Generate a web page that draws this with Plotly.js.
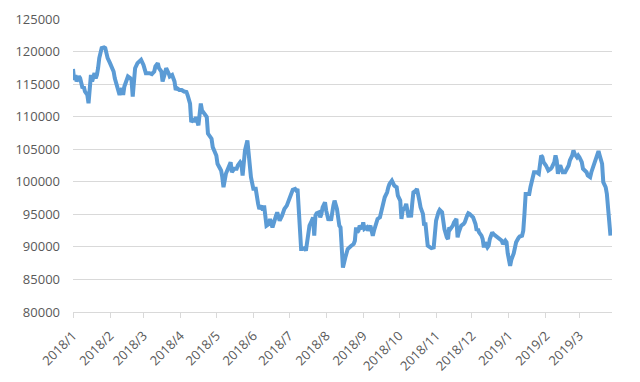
<!DOCTYPE html>
<html>
<head>
<meta charset="utf-8">
<script src="https://cdn.plot.ly/plotly-3.0.1.min.js"></script>
<style>html,body{margin:0;padding:0;background:#fff;}#chart{width:640px;height:382px;}</style>
</head>
<body>
<div id="chart"></div>
<script>
const dates = [
"2018-01-01","2018-01-02","2018-01-03","2018-01-04","2018-01-06","2018-01-07","2018-01-09","2018-01-10","2018-01-11","2018-01-13",
"2018-01-14","2018-01-15","2018-01-16","2018-01-17","2018-01-19","2018-01-20","2018-01-21","2018-01-22","2018-01-23","2018-01-25",
"2018-01-27","2018-01-28","2018-01-29","2018-01-30","2018-02-01","2018-02-02","2018-02-04","2018-02-05","2018-02-06","2018-02-08",
"2018-02-09","2018-02-11","2018-02-12","2018-02-13","2018-02-15","2018-02-16","2018-02-18","2018-02-19","2018-02-20","2018-02-21",
"2018-02-22","2018-02-24","2018-02-26","2018-02-27","2018-03-01","2018-03-02","2018-03-03","2018-03-06","2018-03-08","2018-03-10",
"2018-03-11","2018-03-13","2018-03-14","2018-03-16","2018-03-17","2018-03-19","2018-03-20","2018-03-22","2018-03-23","2018-03-25",
"2018-03-27","2018-03-28","2018-03-29","2018-03-31","2018-04-02","2018-04-04","2018-04-06","2018-04-07","2018-04-09","2018-04-10",
"2018-04-12","2018-04-13","2018-04-14","2018-04-16","2018-04-17","2018-04-18","2018-04-19","2018-04-21","2018-04-23","2018-04-24",
"2018-04-26","2018-04-27","2018-04-28","2018-04-30","2018-05-01","2018-05-02","2018-05-05","2018-05-06","2018-05-07","2018-05-09",
"2018-05-11","2018-05-13","2018-05-14","2018-05-16","2018-05-18","2018-05-19","2018-05-21","2018-05-22","2018-05-23","2018-05-24",
"2018-05-25","2018-05-27","2018-05-28","2018-05-29","2018-05-30","2018-06-01","2018-06-03","2018-06-05","2018-06-06","2018-06-08",
"2018-06-09","2018-06-10","2018-06-11","2018-06-12","2018-06-14","2018-06-15","2018-06-17","2018-06-18","2018-06-20","2018-06-21",
"2018-06-23","2018-06-25","2018-06-27","2018-06-29","2018-06-30","2018-07-02","2018-07-03","2018-07-04","2018-07-06","2018-07-07",
"2018-07-08","2018-07-09","2018-07-10","2018-07-11","2018-07-12","2018-07-14","2018-07-15","2018-07-16","2018-07-17","2018-07-18",
"2018-07-20","2018-07-21","2018-07-22","2018-07-23","2018-07-24","2018-07-26","2018-07-27","2018-07-28","2018-07-29","2018-07-31",
"2018-08-01","2018-08-03","2018-08-04","2018-08-05","2018-08-07","2018-08-08","2018-08-10","2018-08-11","2018-08-12","2018-08-13",
"2018-08-14","2018-08-15","2018-08-17","2018-08-18","2018-08-19","2018-08-22","2018-08-24","2018-08-25","2018-08-26","2018-08-27",
"2018-08-28","2018-08-29","2018-08-31","2018-09-01","2018-09-02","2018-09-04","2018-09-05","2018-09-07","2018-09-08","2018-09-09",
"2018-09-10","2018-09-11","2018-09-13","2018-09-15","2018-09-16","2018-09-18","2018-09-19","2018-09-21","2018-09-22","2018-09-23",
"2018-09-25","2018-09-26","2018-09-27","2018-09-29","2018-09-30","2018-10-02","2018-10-03","2018-10-04","2018-10-06","2018-10-07",
"2018-10-09","2018-10-10","2018-10-11","2018-10-12","2018-10-13","2018-10-15","2018-10-16","2018-10-18","2018-10-19","2018-10-21",
"2018-10-22","2018-10-23","2018-10-24","2018-10-25","2018-10-27","2018-10-28","2018-10-30","2018-10-31","2018-11-01","2018-11-03",
"2018-11-04","2018-11-06","2018-11-07","2018-11-08","2018-11-10","2018-11-11","2018-11-12","2018-11-13","2018-11-15","2018-11-16",
"2018-11-18","2018-11-19","2018-11-20","2018-11-21","2018-11-22","2018-11-24","2018-11-25","2018-11-27","2018-11-28","2018-11-29",
"2018-12-01","2018-12-02","2018-12-04","2018-12-05","2018-12-06","2018-12-07","2018-12-09","2018-12-10","2018-12-11","2018-12-12",
"2018-12-14","2018-12-15","2018-12-16","2018-12-18","2018-12-19","2018-12-22","2018-12-24","2018-12-26","2018-12-27","2018-12-29",
"2018-12-30","2018-12-31","2019-01-02","2019-01-03","2019-01-05","2019-01-06","2019-01-07","2019-01-09","2019-01-10","2019-01-12",
"2019-01-13","2019-01-14","2019-01-15","2019-01-17","2019-01-18","2019-01-19","2019-01-20","2019-01-22","2019-01-23","2019-01-24",
"2019-01-26","2019-01-27","2019-01-28","2019-01-29","2019-01-30","2019-02-01","2019-02-02","2019-02-03","2019-02-05","2019-02-06",
"2019-02-08","2019-02-09","2019-02-10","2019-02-11","2019-02-12","2019-02-13","2019-02-14","2019-02-15","2019-02-17","2019-02-18",
"2019-02-20","2019-02-21","2019-02-23","2019-02-24","2019-02-25","2019-02-27","2019-02-28","2019-03-01","2019-03-03","2019-03-04",
"2019-03-06","2019-03-07","2019-03-08","2019-03-10","2019-03-11","2019-03-12","2019-03-13","2019-03-15","2019-03-16","2019-03-17",
"2019-03-18","2019-03-20","2019-03-21","2019-03-22","2019-03-23","2019-03-24","2019-03-25","2019-03-26","2019-03-27"
];
const values = [
117340,115650,116400,115400,116200,115900,114370,114630,113860,113340,
112060,113600,116400,115400,116680,115900,116400,117450,118990,120530,
120640,120530,119250,118990,118220,117710,116940,115900,115140,114100,
113340,114370,113340,114630,115900,116170,115900,115650,113090,116400,
117450,118220,118730,118730,117960,116940,116680,116680,116530,116940,
117710,118220,117450,116940,115400,116680,117450,116680,116170,116400,
115400,114100,114370,114100,114100,113860,113800,113290,112010,109180,
109700,109180,109950,108670,110980,112010,110980,110470,109950,107390,
106870,106620,105320,104300,104040,102760,101730,100700,99160,101220,
101990,103010,101470,101990,101990,102500,103010,102760,100960,102500,
104820,106360,104560,103010,100700,98910,98910,96600,95830,96340,
95570,96340,94800,93260,93520,94290,93000,93770,94800,95310,
94030,94800,95830,96340,96850,98140,98650,98760,98910,98650,
98910,96080,91980,89670,89670,89820,89410,90440,91460,93260,
94030,94540,91720,94800,95160,95310,94540,95060,96080,96850,
95570,94030,94540,94030,96340,97110,95830,94290,93260,93000,
90180,86830,88370,89140,89670,90180,90440,90950,93000,92230,
92490,93260,92750,93770,92750,93000,92490,93260,92230,91720,
92490,93260,94290,94540,95570,96850,97620,98390,99160,99680,
100190,99680,99420,99160,97880,97110,94290,95570,96080,96600,
94540,95570,94540,96600,98390,98650,98910,97110,96080,95060,
93260,93770,90950,90180,89920,89820,89920,92750,94030,95310,
95680,95310,94030,92750,91460,91210,93000,92750,93260,93770,
94290,91460,92230,92750,93260,93520,93770,94800,95160,95060,
94800,94540,93520,92490,92750,92230,91720,91210,89920,90700,
89920,90180,91210,92230,91980,91460,91210,90950,90440,90950,
90700,89000,87080,88000,89000,89920,90700,91370,91590,91720,
92490,95060,98140,98140,98140,99160,100190,101470,101470,101470,
101220,103270,104040,103780,103010,102500,101990,101730,101990,102240,
103010,104040,103270,101220,102240,102500,101990,101470,101470,101730,
102500,103270,104040,104820,104300,103780,104040,103780,103010,101990,
101730,101470,100960,100700,101470,101990,102760,103520,104300,104710,
104040,102760,99940,99420,99160,98140,96080,93520,91720
];
const tickDates = ["2018-01-01","2018-02-01","2018-03-01","2018-04-01","2018-05-01","2018-06-01","2018-07-01","2018-08-01","2018-09-01","2018-10-01","2018-11-01","2018-12-01","2019-01-01","2019-02-01","2019-03-01"];
const tickLabels = ["2018/1","2018/2","2018/3","2018/4","2018/5","2018/6","2018/7","2018/8","2018/9","2018/10","2018/11","2018/12","2019/1","2019/2","2019/3"];
const yTicks = [80000,85000,90000,95000,100000,105000,110000,115000,120000,125000];

const trace = {
  x: dates, y: values, type: 'scatter', mode: 'lines',
  line: {color: '#5B9BD5', width: 4}, hoverinfo: 'skip'
};
const layout = {
  width: 640, height: 382,
  margin: {l: 73, r: 28, t: 19, b: 70},
  paper_bgcolor: '#ffffff', plot_bgcolor: '#ffffff',
  showlegend: false,
  font: {family: '"Open Sans", "Liberation Sans", sans-serif', size: 13, color: '#595959'},
  xaxis: {
    type: 'date',
    range: ['2018-01-01', '2019-03-28 07:00'],
    tickmode: 'array', tickvals: tickDates, ticktext: tickLabels,
    tickangle: -45, ticks: 'outside', ticklen: 5, tickcolor: '#d9d9d9', tickwidth: 1,
    ticklabelstandoff: 5,
    showgrid: false, showline: true, linecolor: '#d9d9d9', linewidth: 1,
    zeroline: false, tickfont: {size: 13, color: '#595959'}
  },
  yaxis: {
    range: [80000, 125000],
    tickmode: 'array', tickvals: yTicks, ticktext: yTicks.map(String),
    showgrid: true, gridcolor: '#d9d9d9', gridwidth: 1,
    zeroline: false, showline: false, ticks: '',
    ticklabelstandoff: 12,
    tickfont: {size: 13, color: '#595959'}
  }
};
Plotly.newPlot('chart', [trace], layout, {displayModeBar: false, staticPlot: true});
</script>
</body>
</html>
